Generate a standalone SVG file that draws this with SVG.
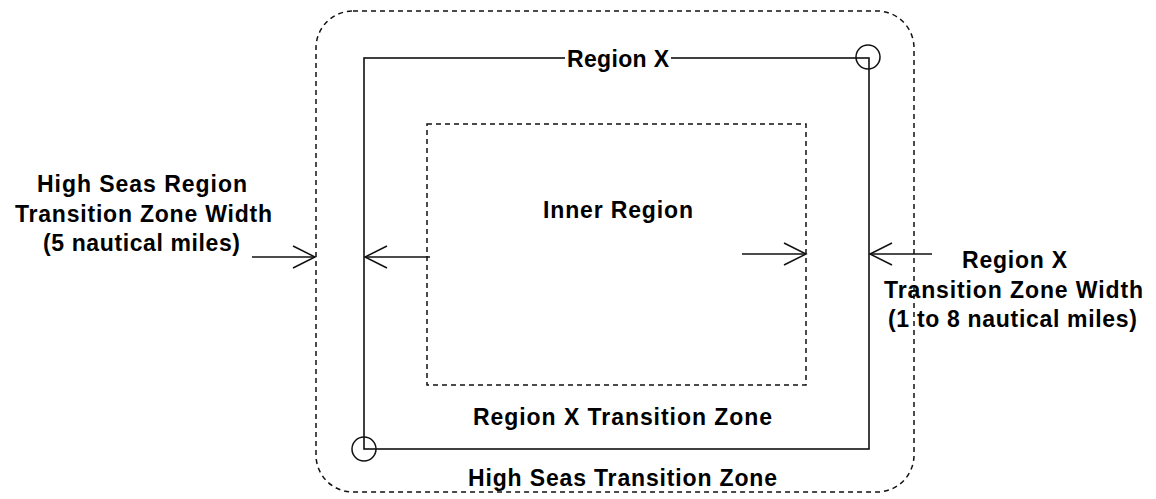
<svg xmlns="http://www.w3.org/2000/svg" width="1156" height="499" viewBox="0 0 1156 499">
<style>
.t{font-family:"Liberation Sans",Arial,sans-serif;font-weight:bold;font-size:23px;fill:#000}
.solid{fill:none;stroke:#111;stroke-width:1.6}
.dash{fill:none;stroke:#111;stroke-width:1.5;stroke-dasharray:5 4}
.ln{fill:none;stroke:#111;stroke-width:1.5}
</style>
<defs>
<marker id="arr" viewBox="-25 -15 30 30" refX="0" refY="0" markerWidth="30" markerHeight="30" orient="auto" markerUnits="userSpaceOnUse">
<path d="M-22,-11 L0,0 L-22,11" fill="none" stroke="#111" stroke-width="1.5"/>
</marker>
</defs>
<rect width="1156" height="499" fill="#fff"/>
<g id="high-seas-zone">
<rect class="dash" x="316" y="11" width="598" height="481" rx="37" ry="37"/>
<text class="t" x="468" y="486" textLength="309" lengthAdjust="spacing">High Seas Transition Zone</text>
</g>
<g id="region-x">
<rect class="solid" x="364" y="58" width="505" height="391"/>
<rect x="565" y="48" width="106" height="20" fill="#fff"/>
<text class="t" x="567" y="67" textLength="102" lengthAdjust="spacing">Region X</text>
<text class="t" x="473" y="425" textLength="299" lengthAdjust="spacing">Region X Transition Zone</text>
<circle class="ln" cx="868" cy="57" r="12"/>
<circle class="ln" cx="364" cy="449" r="12"/>
</g>
<g id="inner-region">
<rect class="dash" x="427" y="124" width="379" height="261"/>
<text class="t" x="543" y="218" textLength="150" lengthAdjust="spacing">Inner Region</text>
</g>
<g id="left-label">
<text class="t" x="37" y="192" textLength="210" lengthAdjust="spacing">High Seas Region</text>
<text class="t" x="15" y="222" textLength="257" lengthAdjust="spacing">Transition Zone Width</text>
<text class="t" x="43" y="251" textLength="197" lengthAdjust="spacing">(5 nautical miles)</text>
</g>
<g id="right-label">
<text class="t" x="962" y="268" textLength="105" lengthAdjust="spacing">Region X</text>
<text class="t" x="884" y="298" textLength="259" lengthAdjust="spacing">Transition Zone Width</text>
<text class="t" x="888" y="327" textLength="249" lengthAdjust="spacing">(1 to 8 nautical miles)</text>
</g>
<g id="connectors">
<line class="ln" x1="252" y1="257" x2="315" y2="257" marker-end="url(#arr)"/>
<line class="ln" x1="430" y1="257" x2="365" y2="257" marker-end="url(#arr)"/>
<line class="ln" x1="742" y1="254" x2="806" y2="254" marker-end="url(#arr)"/>
<line class="ln" x1="932" y1="254" x2="870" y2="254" marker-end="url(#arr)"/>
</g>
</svg>
